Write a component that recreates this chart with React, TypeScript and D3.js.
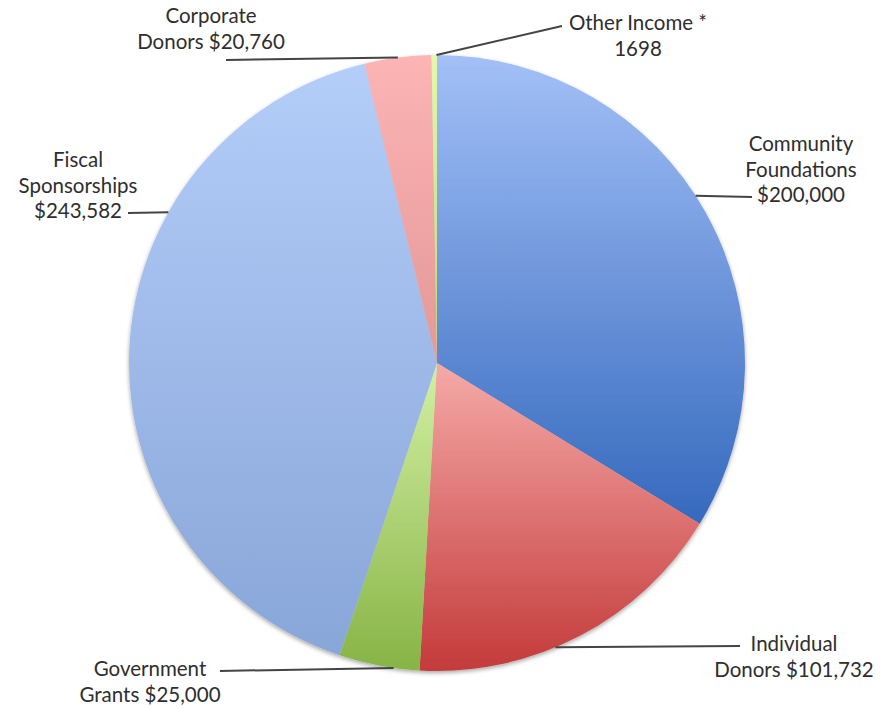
import * as d3 from "d3";

// slices clockwise from 12 o'clock
const categories = [
  "Community Foundations",
  "Individual Donors",
  "Government Grants",
  "Fiscal Sponsorships",
  "Corporate Donors",
  "Other Income",
];
const values = [200000, 101732, 25000, 243582, 20760, 1698];
const labelLines = [
  ["Community", "Foundations", "$200,000"],
  ["Individual", "Donors $101,732"],
  ["Government", "Grants $25,000"],
  ["Fiscal", "Sponsorships", "$243,582"],
  ["Corporate", "Donors $20,760"],
  ["Other Income *", "1698"],
];

// gradient top / bottom per slice
const colorTop = ["#a3c0f7", "#f5aaa8", "#d3f0a4", "#b4cdf9", "#fcb4b4", "#e4f7b0"];
const colorBottom = ["#3569bd", "#c43a3a", "#87b445", "#88a6d8", "#e49898", "#b8dc70"];

// label layout: angle (deg) where the leader line meets the pie, text anchor point
const layout = [
  { angle: 57.1, lineEnd: [752, 197], text: [801, 146] },
  { angle: 157.4, lineEnd: [740, 646], text: [794, 646] },
  { angle: 188.1, lineEnd: [220, 671], text: [150, 671] },
  { angle: 299.3, lineEnd: [128, 213], text: [78, 162] },
  { angle: 352.7, lineEnd: [226, 60], text: [211, 18] },
  { angle: 359.9, lineEnd: [562, 26], text: [638, 25] },
];

export default function App() {
  const width = 884;
  const height = 709;
  const cx = 437;
  const cy = 363;
  const r = 308;

  const pie = d3.pie<number>().sort(null).value((d) => d);
  const arcs = pie(values);
  const arc = d3.arc<d3.PieArcDatum<number>>().innerRadius(0).outerRadius(r);

  const font = "'Lato', 'DejaVu Sans', sans-serif";

  return (
    <svg width={width} height={height} style={{ position: "absolute", left: 0, top: 0 }}>
      <defs>
        {categories.map((_, i) => (
          <linearGradient key={i} id={`g${i}`} x1="0" y1="0" x2="0" y2="1">
            <stop offset="0%" stopColor={colorTop[i]} />
            <stop offset="100%" stopColor={colorBottom[i]} />
          </linearGradient>
        ))}
        <filter id="shadow" x="-10%" y="-10%" width="120%" height="120%">
          <feGaussianBlur in="SourceAlpha" stdDeviation="2" />
          <feOffset dx="0" dy="2" result="b" />
          <feComponentTransfer>
            <feFuncA type="linear" slope="0.35" />
          </feComponentTransfer>
          <feMerge>
            <feMergeNode />
            <feMergeNode in="SourceGraphic" />
          </feMerge>
        </filter>
      </defs>
      <g transform={`translate(${cx},${cy})`} filter="url(#shadow)">
        {arcs.map((a, i) => (
          <path key={categories[i]} d={arc(a) || ""} fill={`url(#g${i})`} />
        ))}
      </g>
      {layout.map((l, i) => {
        const t = (l.angle * Math.PI) / 180;
        const x0 = cx + r * Math.sin(t);
        const y0 = cy - r * Math.cos(t);
        return (
          <g key={i}>
            <line
              x1={x0}
              y1={y0}
              x2={l.lineEnd[0]}
              y2={l.lineEnd[1]}
              stroke="#444"
              strokeWidth={2}
            />
            <text
              x={l.text[0]}
              y={l.text[1]}
              textAnchor="middle"
              fontFamily={font}
              fontSize={20.5}
              fill="#2e2e2e"
              dominantBaseline="middle"
            >
              {labelLines[i].map((s, j) => (
                <tspan key={j} x={l.text[0]} dy={j === 0 ? 0 : 25.5}>
                  {s}
                </tspan>
              ))}
            </text>
          </g>
        );
      })}
    </svg>
  );
}
